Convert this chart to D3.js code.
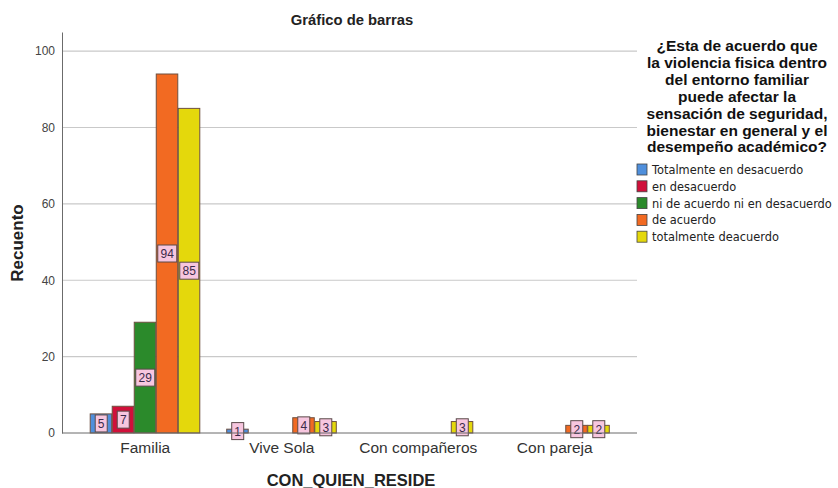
<!DOCTYPE html>
<html>
<head>
<meta charset="utf-8">
<script src="https://cdn.jsdelivr.net/npm/d3@7"></script>
<style>
  body { margin: 0; background: #fff; }
  svg { font-family: "Liberation Sans", Arial, sans-serif; }
</style>
</head>
<body>
<svg id="chart" width="838" height="488"></svg>
<script>
const categories = ['Familia', 'Vive Sola', 'Con compañeros', 'Con pareja'];
const responses = [
    'Totalmente en desacuerdo',
    'en desacuerdo',
    'ni de acuerdo ni en desacuerdo',
    'de acuerdo',
    'totalmente deacuerdo'
];
// counts per response, one value per category
const totalDesacuerdo = [5, 1, 0, 0];
const enDesacuerdo = [7, 0, 0, 0];
const niNi = [29, 0, 0, 0];
const deAcuerdo = [94, 4, 0, 2];
const totalAcuerdo = [85, 3, 3, 2];
const yTicks = [0, 20, 40, 60, 80, 100];
const legendTitle = [
    '¿Esta de acuerdo que',
    'la violencia fisica dentro',
    'del entorno familiar',
    'puede afectar la',
    'sensación de seguridad,',
    'bienestar en general y el',
    'desempeño académico?'
];

const series = [totalDesacuerdo, enDesacuerdo, niNi, deAcuerdo, totalAcuerdo];
const colors = ['#4f8fdc', '#d0103a', '#2b8a2b', '#f26a22', '#e4d80c'];

const svg = d3.select('#chart');
const plot = {left: 62, right: 637, top: 32, bottom: 433};

const x = d3.scaleBand()
    .domain(categories)
    .range([77, 623]);
const xInner = d3.scaleBand()
    .domain(d3.range(responses.length))
    .range([0, x.bandwidth()])
    .paddingOuter(0.6);
const y = d3.scaleLinear().domain([0, 105]).range([plot.bottom, plot.top]);

// gridlines
svg.append('g')
    .selectAll('line')
    .data(yTicks.filter(d => d > 0))
    .enter()
    .append('line')
    .attr('x1', plot.left)
    .attr('x2', plot.right)
    .attr('y1', d => y(d))
    .attr('y2', d => y(d))
    .attr('stroke', '#c9c9c9')
    .attr('stroke-width', 1.2);

// y axis
const yAxis = svg.append('g')
    .attr('transform', `translate(${plot.left},0)`)
    .call(d3.axisLeft(y).tickValues(yTicks).tickSize(0).tickPadding(7));
yAxis.select('.domain').attr('stroke', '#6b6b6b');
yAxis.selectAll('text').attr('font-size', 12).attr('fill', '#444')
    .attr('font-family', '"Liberation Sans", Arial, sans-serif');

// bars
const rows = [];
categories.forEach((c, ci) => {
    series.forEach((s, si) => {
        if (s[ci] > 0) rows.push({cat: c, idx: si, value: s[ci]});
    });
});

const barGroup = svg.append('g')
    .selectAll('g')
    .data(rows)
    .enter()
    .append('g');

barGroup.append('rect')
    .attr('x', d => x(d.cat) + xInner(d.idx))
    .attr('y', d => y(d.value))
    .attr('width', xInner.bandwidth() - 0.5)
    .attr('height', d => y(0) - y(d.value))
    .attr('fill', d => colors[d.idx])
    .attr('stroke', '#6e5040')
    .attr('stroke-width', 1);

// value labels
barGroup.each(function (d) {
    const g = d3.select(this);
    const cx = x(d.cat) + xInner(d.idx) + xInner.bandwidth() / 2;
    const cy = (y(0) + y(d.value)) / 2;
    const label = String(d.value);
    const w = label.length > 1 ? 19 : 12;
    g.append('rect')
        .attr('x', cx - w / 2)
        .attr('y', cy - 8.5)
        .attr('width', w)
        .attr('height', 17)
        .attr('fill', '#f7c6df')
        .attr('stroke', '#5a4a4a')
        .attr('stroke-width', 1);
    g.append('text')
        .attr('x', cx)
        .attr('y', cy + 4.5)
        .attr('text-anchor', 'middle')
        .attr('font-size', 12)
        .attr('fill', '#3a2a4a')
        .text(label);
});

// x axis
const xAxis = svg.append('g')
    .attr('transform', `translate(0,${plot.bottom})`)
    .call(d3.axisBottom(x).tickSize(0).tickPadding(9));
xAxis.select('.domain').remove();
xAxis.selectAll('text').attr('font-size', 15.5).attr('fill', '#333')
    .attr('font-family', '"Liberation Sans", Arial, sans-serif');
svg.append('line')
    .attr('x1', plot.left)
    .attr('x2', plot.right)
    .attr('y1', plot.bottom)
    .attr('y2', plot.bottom)
    .attr('stroke', '#6b6b6b');

// titles
svg.append('text')
    .attr('x', 352)
    .attr('y', 25)
    .attr('text-anchor', 'middle')
    .attr('font-size', 14.8)
    .attr('font-weight', 'bold')
    .attr('fill', '#222')
    .text('Gráfico de barras');

svg.append('text')
    .attr('transform', 'rotate(-90)')
    .attr('x', -243)
    .attr('y', 23)
    .attr('text-anchor', 'middle')
    .attr('font-size', 17)
    .attr('font-weight', 'bold')
    .attr('fill', '#222')
    .text('Recuento');

svg.append('text')
    .attr('x', 351)
    .attr('y', 486)
    .attr('text-anchor', 'middle')
    .attr('font-size', 16.5)
    .attr('font-weight', 'bold')
    .attr('fill', '#222')
    .text('CON_QUIEN_RESIDE');

// legend
const legend = svg.append('g');
legend.selectAll('text.lt')
    .data(legendTitle)
    .enter()
    .append('text')
    .attr('class', 'lt')
    .attr('x', 737)
    .attr('y', (d, i) => 51 + i * 16.9)
    .attr('text-anchor', 'middle')
    .attr('font-size', 15.5)
    .attr('font-weight', 'bold')
    .attr('fill', '#111')
    .text(d => d);

const item = legend.selectAll('g.item')
    .data(responses)
    .enter()
    .append('g')
    .attr('class', 'item')
    .attr('transform', (d, i) => `translate(637,${170 + i * 16.8})`);
item.append('rect')
    .attr('x', 0)
    .attr('y', -6)
    .attr('width', 10)
    .attr('height', 11)
    .attr('fill', (d, i) => colors[i])
    .attr('stroke', '#444')
    .attr('stroke-width', 0.8);
item.append('text')
    .attr('x', 15)
    .attr('y', 4)
    .attr('fill', '#222')
    .attr('font-family', '"DejaVu Sans", Verdana, sans-serif')
    .style('font-size', '11.4px')
    .text(d => d);
</script>
</body>
</html>
